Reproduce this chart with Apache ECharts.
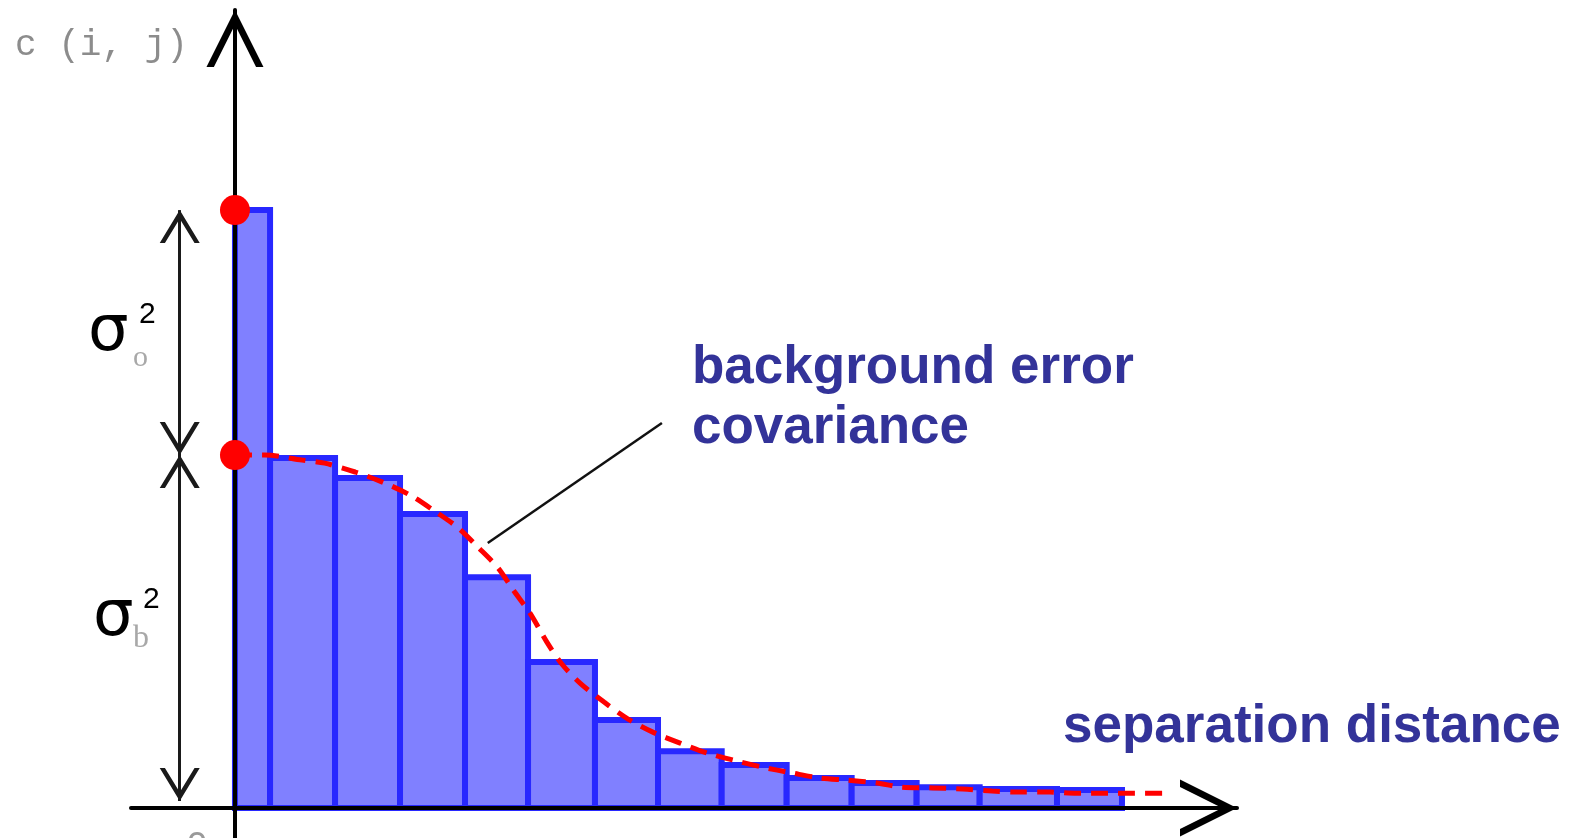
<!DOCTYPE html>
<html>
<head>
<meta charset="utf-8">
<script src="https://cdn.jsdelivr.net/npm/echarts@6/dist/echarts.min.js"></script>
<style>
  html, body { margin: 0; padding: 0; background: #ffffff; }
  #chart { width: 1585px; height: 838px; }
</style>
</head>
<body>
<div id="chart"></div>
<script>
// Binned innovation covariances against separation distance (bin edges, bin heights)
const binEdges = [0, 0.54, 1.54, 2.54, 3.54, 4.51, 5.54, 6.51, 7.49, 8.49, 9.49, 10.49, 11.46, 12.65, 13.65];
const binValues = [1.694, 0.992, 0.935, 0.833, 0.654, 0.414, 0.249, 0.161, 0.122, 0.085, 0.071, 0.059, 0.054, 0.051];

// Fitted background error covariance curve
const curveX = [0, 0.46, 1.03, 1.38, 1.85, 2.26, 2.69, 3.05, 3.42, 3.74, 4.05, 4.28, 4.54, 4.80, 5.03, 5.31,
                5.68, 6.05, 6.43, 6.85, 7.26, 7.66, 8.11, 8.58, 9.00, 9.42, 9.88, 10.26, 10.74, 11.20, 11.65,
                12.08, 12.54, 12.95, 13.42, 13.82, 14.42];
const curveY = [1.000, 1.000, 0.986, 0.977, 0.952, 0.924, 0.887, 0.844, 0.796, 0.739, 0.680, 0.618, 0.552, 0.470, 0.408, 0.354,
                0.300, 0.252, 0.215, 0.184, 0.156, 0.136, 0.116, 0.099, 0.085, 0.079, 0.071, 0.059, 0.057, 0.054, 0.048,
                0.045, 0.045, 0.042, 0.042, 0.042, 0.042];

// Variance split at zero separation
const sigmaB2 = 1.0;    // background error variance
const sigmaO2 = 0.694;  // observation error variance

// Open chevron arrow head, pointing up, tip at the centre of its box
const CHEVRON = 'path://M50 0 L50.2 0 L50 0.2 Z M50 100 L100 200 L87 200 L50 126 L13 200 L0 200 Z';

const chart = echarts.init(document.getElementById('chart'), null, { renderer: 'canvas' });

const dimX = -0.85;       // x position of the variance dimension arrows
const dimBottom = 0.02;   // lower end of the sigma_b arrow

const option = {
  animation: false,
  backgroundColor: '#ffffff',
  grid: { left: 131, right: 348, top: 10, bottom: 0, containLabel: false },
  xAxis: {
    type: 'value',
    min: -1.6,
    max: 15.42,
    z: 5,
    axisLine: {
      show: true,
      onZero: true,
      symbol: ['none', CHEVRON],
      symbolSize: [57, 114],
      lineStyle: { color: '#000000', width: 4 }
    },
    axisTick: { show: false },
    axisLabel: { show: false },
    splitLine: { show: false }
  },
  yAxis: {
    type: 'value',
    min: -0.085,
    max: 2.261,
    z: 5,
    axisLine: {
      show: true,
      onZero: true,
      symbol: ['none', CHEVRON],
      symbolSize: [57, 114],
      lineStyle: { color: '#000000', width: 4 }
    },
    axisTick: { show: false },
    axisLabel: { show: false },
    splitLine: { show: false }
  },
  series: [
    {
      name: 'binned covariance',
      type: 'custom',
      z: 2,
      data: binValues.map((v, i) => [binEdges[i], binEdges[i + 1], v]),
      encode: { x: [0, 1], y: 2 },
      renderItem: function (params, api) {
        const topLeft = api.coord([api.value(0), api.value(2)]);
        const bottomRight = api.coord([api.value(1), 0]);
        return {
          type: 'rect',
          shape: {
            x: topLeft[0],
            y: topLeft[1],
            width: bottomRight[0] - topLeft[0],
            height: bottomRight[1] - topLeft[1]
          },
          style: { fill: '#8080ff', stroke: '#2828ff', lineWidth: 6 }
        };
      }
    },
    {
      name: 'background error covariance',
      type: 'line',
      z: 3,
      data: curveX.map((x, i) => [x, curveY[i]]),
      smooth: 0.3,
      showSymbol: false,
      lineStyle: { color: '#ff0000', width: 5, type: [17, 10], cap: 'butt' },
      markLine: {
        silent: true,
        symbol: ['none', 'none'],
        label: { show: false },
        lineStyle: { color: '#111111', width: 2.5, type: 'solid' },
        data: [[{ coord: [3.89, 0.751] }, { coord: [6.57, 1.091] }]]
      }
    },
    {
      name: 'variances',
      type: 'scatter',
      z: 6,
      symbol: 'circle',
      symbolSize: 30,
      itemStyle: { color: '#ff0000', opacity: 1 },
      data: [[0, sigmaB2 + sigmaO2], [0, sigmaB2]],
      markLine: {
        silent: true,
        symbol: [CHEVRON, CHEVRON],
        symbolSize: [40, 66],
        label: { show: false },
        lineStyle: { color: '#1a1a1a', width: 3, type: 'solid' },
        data: [
          [{ coord: [dimX, sigmaB2 + sigmaO2] }, { coord: [dimX, sigmaB2] }],
          [{ coord: [dimX, sigmaB2] }, { coord: [dimX, dimBottom] }]
        ]
      }
    }
  ],
  graphic: [
    {
      type: 'text', x: 15, y: 45,
      style: { text: 'c (i, j)', fontFamily: 'Liberation Mono', fontSize: 36, fill: '#8c8c8c', align: 'left', verticalAlign: 'middle' }
    },
    {
      type: 'text', x: 197, y: 846,
      style: { text: '0', fontFamily: 'Liberation Mono', fontSize: 36, fill: '#9a9a9a', align: 'center', verticalAlign: 'middle' }
    },
    {
      type: 'text', x: 692, y: 368.5,
      style: { text: 'background error', fontFamily: 'Liberation Sans', fontWeight: 'bold', fontSize: 53, fill: '#333399', align: 'left', verticalAlign: 'middle' }
    },
    {
      type: 'text', x: 692, y: 428.5,
      style: { text: 'covariance', fontFamily: 'Liberation Sans', fontWeight: 'bold', fontSize: 53, fill: '#333399', align: 'left', verticalAlign: 'middle' }
    },
    {
      type: 'text', x: 1063, y: 727,
      style: { text: 'separation distance', fontFamily: 'Liberation Sans', fontWeight: 'bold', fontSize: 53, fill: '#333399', align: 'left', verticalAlign: 'middle' }
    },
    // sigma_o squared
    {
      type: 'text', x: 88, y: 333,
      style: { text: 'σ', fontFamily: 'DejaVu Sans', fontSize: 64, fill: '#000000', align: 'left', verticalAlign: 'middle' }
    },
    {
      type: 'text', x: 139, y: 315,
      style: { text: '2', fontFamily: 'Liberation Sans', fontSize: 30, fill: '#000000', align: 'left', verticalAlign: 'middle' }
    },
    {
      type: 'text', x: 133, y: 358,
      style: { text: 'o', fontFamily: 'Liberation Serif', fontSize: 30, fill: '#a8a8a8', align: 'left', verticalAlign: 'middle' }
    },
    // sigma_b squared
    {
      type: 'text', x: 93, y: 618,
      style: { text: 'σ', fontFamily: 'DejaVu Sans', fontSize: 64, fill: '#000000', align: 'left', verticalAlign: 'middle' }
    },
    {
      type: 'text', x: 143, y: 600,
      style: { text: '2', fontFamily: 'Liberation Sans', fontSize: 30, fill: '#000000', align: 'left', verticalAlign: 'middle' }
    },
    {
      type: 'text', x: 133, y: 639,
      style: { text: 'b', fontFamily: 'Liberation Serif', fontSize: 32, fill: '#a8a8a8', align: 'left', verticalAlign: 'middle' }
    }
  ]
};

chart.setOption(option);
</script>
</body>
</html>
